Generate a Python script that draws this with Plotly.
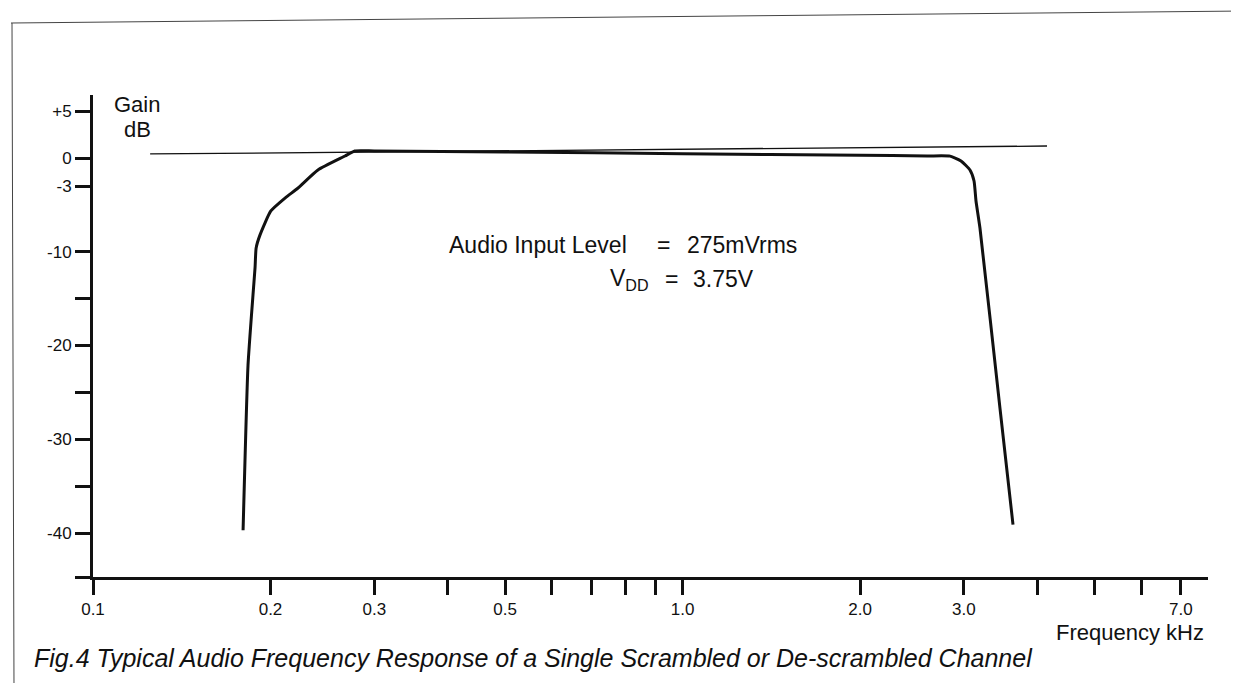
import math
import plotly.graph_objects as go

# ---------------- data ----------------
freq_khz = [0.1797, 0.1832, 0.1868, 0.1883, 0.1891, 0.1920, 0.2003, 0.2117,
            0.2227, 0.2407, 0.2676, 0.278, 0.30, 0.50, 1.0, 2.0, 2.6, 2.842,
            2.966, 3.072, 3.121, 3.145, 3.194, 3.454, 3.634]
gain_db = [-39.7, -22.1, -14.6, -11.7, -9.6, -8.2, -5.65, -4.27,
           -3.2, -1.28, 0.21, 0.75, 0.75, 0.65, 0.45, 0.3, 0.22, 0.2,
           -0.32, -1.28, -2.45, -4.59, -7.47, -26.7, -39.1]

ref_freq_khz = [0.125, 4.15]
ref_gain_db = [0.43, 1.28]

x_major_vals = [0.1, 0.2, 0.3, 0.5, 1.0, 2.0, 3.0, 7.0]
x_major_text = ["0.1", "0.2", "0.3", "0.5", "1.0", "2.0", "3.0", "7.0"]
x_minor_vals = [0.4, 0.6, 0.7, 0.8, 0.9, 4.0, 5.0, 6.0]

y_major_vals = [5, 0, -3, -10, -20, -30, -40]
y_major_text = ["+5", "0", "-3", "-10", "-20", "-30", "-40"]
y_minor_vals = [-15, -25, -35]

caption = "Fig.4 Typical Audio Frequency Response of a Single Scrambled or De-scrambled Channel"

# ---------------- layout geometry (pixels) ----------------
W, H = 1239, 683
PL, PR, PT, PB = 85, 1200, 87, 569          # plot area edges
Y0_PX, PX_PER_DB = 150, 9.375               # 0 dB row, pixels per dB
X_MIN = 0.1
DEC_PX = 589.6                              # pixels per decade

y_top = (Y0_PX - PT) / PX_PER_DB
y_bot = (Y0_PX - PB) / PX_PER_DB
x_lo = math.log10(X_MIN)
x_hi = x_lo + (PR - PL) / DEC_PX

def px(xp):
    return (xp - PL) / (PR - PL)

def py(yp):
    return (PB - yp) / (PB - PT)

FONT = "Liberation Sans, Arial, Helvetica, sans-serif"
TICKFONT = "Liberation Sans Narrow, Arial Narrow, Liberation Sans, Arial, sans-serif"
INK = "#111111"

fig = go.Figure()
fig.add_trace(go.Scatter(x=ref_freq_khz, y=ref_gain_db, mode="lines",
                         line=dict(color=INK, width=1.3), hoverinfo="skip",
                         showlegend=False))
fig.add_trace(go.Scatter(x=freq_khz, y=gain_db, mode="lines",
                         line=dict(color=INK, width=3, shape="spline", smoothing=0.5),
                         showlegend=False))

fig.update_xaxes(type="log", range=[x_lo, x_hi],
                 tickmode="array", tickvals=x_major_vals, ticktext=x_major_text,
                 ticks="outside", ticklen=15, tickwidth=3, tickcolor=INK,
                 minor=dict(tickmode="array", tickvals=x_minor_vals, ticks="outside",
                            ticklen=15, tickwidth=3, tickcolor=INK, showgrid=False),
                 showline=True, linewidth=3, linecolor=INK,
                 showgrid=False, zeroline=False,
                 tickfont=dict(family=TICKFONT, size=17, color=INK))
fig.update_yaxes(range=[y_bot, y_top],
                 tickmode="array", tickvals=y_major_vals, ticktext=y_major_text,
                 ticks="outside", ticklen=15, tickwidth=3, tickcolor=INK,
                 minor=dict(tickmode="array", tickvals=y_minor_vals + [y_bot],
                            ticks="outside", ticklen=15, tickwidth=3, tickcolor=INK,
                            showgrid=False),
                 showline=True, linewidth=3, linecolor=INK,
                 showgrid=False, zeroline=False,
                 tickfont=dict(family=TICKFONT, size=17, color=INK))

ann = []
def text(xp, yp, s, size, xanchor="center", italic=False):
    ann.append(dict(xref="paper", yref="paper", x=px(xp), y=py(yp), text=s,
                    showarrow=False, xanchor=xanchor, yanchor="middle",
                    font=dict(family=FONT, size=size, color=INK,
                              style="italic" if italic else "normal")))

text(129, 96, "Gain", 22)
text(129, 122, "dB", 22)
text(621, 237, "Audio Input Level", 23, xanchor="right")
text(655, 237, "=", 23)
text(677, 237, "275mVrms", 23, xanchor="left")
text(643, 271, "V<sub>DD</sub>", 23, xanchor="right")
text(663, 271, "=", 23)
text(683, 271, "3.75V", 23, xanchor="left")
text(1198, 624, "Frequency kHz", 22, xanchor="right")
text(24, 650, caption, 25, xanchor="left", italic=True)

shapes = []
def border(x0, y0, x1, y1):
    shapes.append(dict(type="line", xref="paper", yref="paper",
                       x0=px(x0), y0=py(y0), x1=px(x1), y1=py(y1),
                       line=dict(color="#444444", width=1)))

border(3, 15, 1237, 3)
border(4, 15, 6, 683)
border(1237, 3, 1237, 677)
border(495, 678, 1237, 676)

fig.update_layout(width=W, height=H, autosize=False,
                  margin=dict(l=PL, r=W - PR, t=PT, b=H - PB),
                  paper_bgcolor="white", plot_bgcolor="white",
                  annotations=ann, shapes=shapes, showlegend=False)

fig.write_html("out.html")
